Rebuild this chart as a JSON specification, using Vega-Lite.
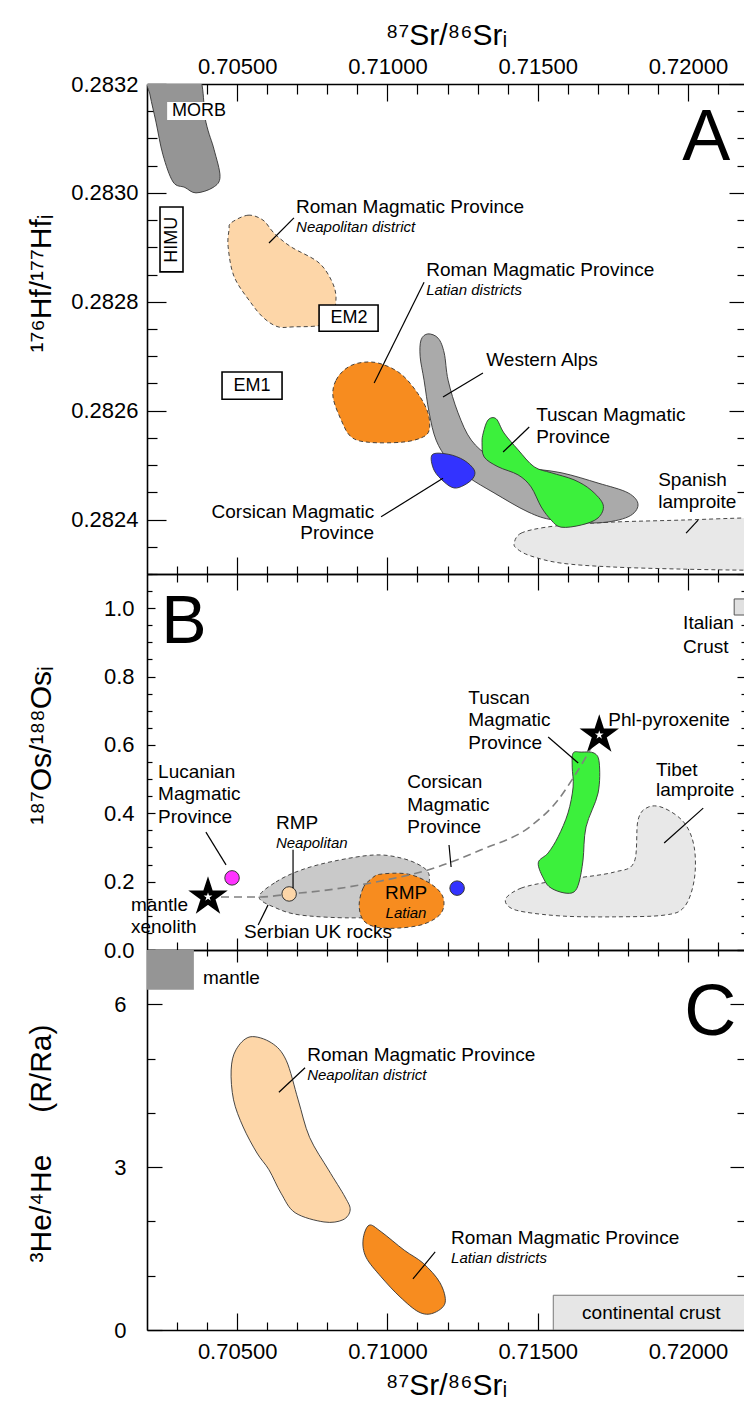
{
"$schema":"https://vega.github.io/schema/vega-lite/v6.json",
"background":"white",
"padding":{"left":26,"top":20,"right":0,"bottom":0},
"spacing":0,
"bounds":"flush",
"config":{"view":{"stroke":null},
 "axis":{"grid":false,"domainColor":"#000","domainWidth":1.6,"tickColor":"#000","tickWidth":1.2,"labelFont":"Liberation Sans","labelFontSize":22,"labelColor":"#000","titleFont":"Liberation Sans","titleColor":"#000","titleFontWeight":"normal","labelFlush":false,"labelOverlap":false,"zindex":1},
 "text":{"font":"Liberation Sans","color":"#000"}},
"datasets":{
"shapes":[
{"panel":"A","id":"A-RN","group":"Roman Neapolitan","i":0,"x":0.7048,"y":0.282945},
{"panel":"A","id":"A-RN","group":"Roman Neapolitan","i":1,"x":0.70536,"y":0.282959},
{"panel":"A","id":"A-RN","group":"Roman Neapolitan","i":2,"x":0.70586,"y":0.28295},
{"panel":"A","id":"A-RN","group":"Roman Neapolitan","i":3,"x":0.70623,"y":0.282926},
{"panel":"A","id":"A-RN","group":"Roman Neapolitan","i":4,"x":0.70679,"y":0.282901},
{"panel":"A","id":"A-RN","group":"Roman Neapolitan","i":5,"x":0.70769,"y":0.282873},
{"panel":"A","id":"A-RN","group":"Roman Neapolitan","i":6,"x":0.70813,"y":0.28284},
{"panel":"A","id":"A-RN","group":"Roman Neapolitan","i":7,"x":0.70829,"y":0.282807},
{"panel":"A","id":"A-RN","group":"Roman Neapolitan","i":8,"x":0.70813,"y":0.282767},
{"panel":"A","id":"A-RN","group":"Roman Neapolitan","i":9,"x":0.70769,"y":0.282756},
{"panel":"A","id":"A-RN","group":"Roman Neapolitan","i":10,"x":0.70689,"y":0.282754},
{"panel":"A","id":"A-RN","group":"Roman Neapolitan","i":11,"x":0.70636,"y":0.282754},
{"panel":"A","id":"A-RN","group":"Roman Neapolitan","i":12,"x":0.70589,"y":0.28277},
{"panel":"A","id":"A-RN","group":"Roman Neapolitan","i":13,"x":0.70546,"y":0.282798},
{"panel":"A","id":"A-RN","group":"Roman Neapolitan","i":14,"x":0.7049,"y":0.282846},
{"panel":"A","id":"A-RN","group":"Roman Neapolitan","i":15,"x":0.7047,"y":0.282901},
{"panel":"A","id":"A-RN","group":"Roman Neapolitan","i":16,"x":0.70473,"y":0.282932},
{"panel":"A","id":"A-RL","group":"Roman Latian","i":0,"x":0.70819,"y":0.282625},
{"panel":"A","id":"A-RL","group":"Roman Latian","i":1,"x":0.70829,"y":0.282656},
{"panel":"A","id":"A-RL","group":"Roman Latian","i":2,"x":0.70869,"y":0.28268},
{"panel":"A","id":"A-RL","group":"Roman Latian","i":3,"x":0.70922,"y":0.282689},
{"panel":"A","id":"A-RL","group":"Roman Latian","i":4,"x":0.70979,"y":0.282686},
{"panel":"A","id":"A-RL","group":"Roman Latian","i":5,"x":0.71046,"y":0.282667},
{"panel":"A","id":"A-RL","group":"Roman Latian","i":6,"x":0.71102,"y":0.282631},
{"panel":"A","id":"A-RL","group":"Roman Latian","i":7,"x":0.71135,"y":0.282596},
{"panel":"A","id":"A-RL","group":"Roman Latian","i":8,"x":0.71139,"y":0.282564},
{"panel":"A","id":"A-RL","group":"Roman Latian","i":9,"x":0.71112,"y":0.28255},
{"panel":"A","id":"A-RL","group":"Roman Latian","i":10,"x":0.71046,"y":0.282542},
{"panel":"A","id":"A-RL","group":"Roman Latian","i":11,"x":0.70936,"y":0.282542},
{"panel":"A","id":"A-RL","group":"Roman Latian","i":12,"x":0.70879,"y":0.282552},
{"panel":"A","id":"A-RL","group":"Roman Latian","i":13,"x":0.70846,"y":0.282583},
{"panel":"A","id":"A-SP","group":"Spanish lamproite","i":0,"x":0.71422,"y":0.282357},
{"panel":"A","id":"A-SP","group":"Spanish lamproite","i":1,"x":0.71445,"y":0.282375},
{"panel":"A","id":"A-SP","group":"Spanish lamproite","i":2,"x":0.71528,"y":0.282386},
{"panel":"A","id":"A-SP","group":"Spanish lamproite","i":3,"x":0.71645,"y":0.282392},
{"panel":"A","id":"A-SP","group":"Spanish lamproite","i":4,"x":0.71778,"y":0.282396},
{"panel":"A","id":"A-SP","group":"Spanish lamproite","i":5,"x":0.71978,"y":0.282399},
{"panel":"A","id":"A-SP","group":"Spanish lamproite","i":6,"x":0.72191,"y":0.282403},
{"panel":"A","id":"A-SP","group":"Spanish lamproite","i":7,"x":0.72277,"y":0.282403},
{"panel":"A","id":"A-SP","group":"Spanish lamproite","i":8,"x":0.72277,"y":0.282307},
{"panel":"A","id":"A-SP","group":"Spanish lamproite","i":9,"x":0.72191,"y":0.282307},
{"panel":"A","id":"A-SP","group":"Spanish lamproite","i":10,"x":0.71978,"y":0.282309},
{"panel":"A","id":"A-SP","group":"Spanish lamproite","i":11,"x":0.71745,"y":0.282313},
{"panel":"A","id":"A-SP","group":"Spanish lamproite","i":12,"x":0.71578,"y":0.28232},
{"panel":"A","id":"A-SP","group":"Spanish lamproite","i":13,"x":0.71478,"y":0.282333},
{"panel":"A","id":"A-SP","group":"Spanish lamproite","i":14,"x":0.71432,"y":0.282346},
{"panel":"A","id":"A-MORB","group":"MORB","i":0,"x":0.70195,"y":0.28323},
{"panel":"A","id":"A-MORB","group":"MORB","i":1,"x":0.7036,"y":0.28323},
{"panel":"A","id":"A-MORB","group":"MORB","i":2,"x":0.70396,"y":0.28313},
{"panel":"A","id":"A-MORB","group":"MORB","i":3,"x":0.70423,"y":0.28308},
{"panel":"A","id":"A-MORB","group":"MORB","i":4,"x":0.70443,"y":0.28303},
{"panel":"A","id":"A-MORB","group":"MORB","i":5,"x":0.7042,"y":0.28301},
{"panel":"A","id":"A-MORB","group":"MORB","i":6,"x":0.70363,"y":0.283},
{"panel":"A","id":"A-MORB","group":"MORB","i":7,"x":0.70326,"y":0.28301},
{"panel":"A","id":"A-MORB","group":"MORB","i":8,"x":0.70287,"y":0.28302},
{"panel":"A","id":"A-MORB","group":"MORB","i":9,"x":0.70253,"y":0.28307},
{"panel":"A","id":"A-MORB","group":"MORB","i":10,"x":0.7023,"y":0.28313},
{"panel":"A","id":"A-MORB","group":"MORB","i":11,"x":0.7021,"y":0.28318},
{"panel":"A","id":"A-WA","group":"Western Alps","i":0,"x":0.71112,"y":0.28273},
{"panel":"A","id":"A-WA","group":"Western Alps","i":1,"x":0.71135,"y":0.282741},
{"panel":"A","id":"A-WA","group":"Western Alps","i":2,"x":0.71169,"y":0.282733},
{"panel":"A","id":"A-WA","group":"Western Alps","i":3,"x":0.71189,"y":0.282706},
{"panel":"A","id":"A-WA","group":"Western Alps","i":4,"x":0.71202,"y":0.282656},
{"panel":"A","id":"A-WA","group":"Western Alps","i":5,"x":0.71235,"y":0.282596},
{"panel":"A","id":"A-WA","group":"Western Alps","i":6,"x":0.71279,"y":0.282546},
{"panel":"A","id":"A-WA","group":"Western Alps","i":7,"x":0.71345,"y":0.282515},
{"panel":"A","id":"A-WA","group":"Western Alps","i":8,"x":0.71445,"y":0.282497},
{"panel":"A","id":"A-WA","group":"Western Alps","i":9,"x":0.71578,"y":0.282486},
{"panel":"A","id":"A-WA","group":"Western Alps","i":10,"x":0.71701,"y":0.282467},
{"panel":"A","id":"A-WA","group":"Western Alps","i":11,"x":0.71801,"y":0.282449},
{"panel":"A","id":"A-WA","group":"Western Alps","i":12,"x":0.71834,"y":0.282427},
{"panel":"A","id":"A-WA","group":"Western Alps","i":13,"x":0.71801,"y":0.282405},
{"panel":"A","id":"A-WA","group":"Western Alps","i":14,"x":0.71701,"y":0.282394},
{"panel":"A","id":"A-WA","group":"Western Alps","i":15,"x":0.71555,"y":0.282399},
{"panel":"A","id":"A-WA","group":"Western Alps","i":16,"x":0.71468,"y":0.282414},
{"panel":"A","id":"A-WA","group":"Western Alps","i":17,"x":0.71355,"y":0.282449},
{"panel":"A","id":"A-WA","group":"Western Alps","i":18,"x":0.71269,"y":0.282478},
{"panel":"A","id":"A-WA","group":"Western Alps","i":19,"x":0.71202,"y":0.28251},
{"panel":"A","id":"A-WA","group":"Western Alps","i":20,"x":0.71162,"y":0.282546},
{"panel":"A","id":"A-WA","group":"Western Alps","i":21,"x":0.71139,"y":0.282596},
{"panel":"A","id":"A-WA","group":"Western Alps","i":22,"x":0.71122,"y":0.282656},
{"panel":"A","id":"A-WA","group":"Western Alps","i":23,"x":0.71109,"y":0.282699},
{"panel":"A","id":"A-TU","group":"Tuscan","i":0,"x":0.71319,"y":0.282559},
{"panel":"A","id":"A-TU","group":"Tuscan","i":1,"x":0.71335,"y":0.282583},
{"panel":"A","id":"A-TU","group":"Tuscan","i":2,"x":0.71362,"y":0.282585},
{"panel":"A","id":"A-TU","group":"Tuscan","i":3,"x":0.71388,"y":0.282559},
{"panel":"A","id":"A-TU","group":"Tuscan","i":4,"x":0.71435,"y":0.282528},
{"panel":"A","id":"A-TU","group":"Tuscan","i":5,"x":0.71488,"y":0.282497},
{"panel":"A","id":"A-TU","group":"Tuscan","i":6,"x":0.71545,"y":0.282486},
{"panel":"A","id":"A-TU","group":"Tuscan","i":7,"x":0.71621,"y":0.282473},
{"panel":"A","id":"A-TU","group":"Tuscan","i":8,"x":0.71678,"y":0.282454},
{"panel":"A","id":"A-TU","group":"Tuscan","i":9,"x":0.71718,"y":0.282427},
{"panel":"A","id":"A-TU","group":"Tuscan","i":10,"x":0.71701,"y":0.282403},
{"panel":"A","id":"A-TU","group":"Tuscan","i":11,"x":0.71645,"y":0.28239},
{"panel":"A","id":"A-TU","group":"Tuscan","i":12,"x":0.71578,"y":0.282386},
{"panel":"A","id":"A-TU","group":"Tuscan","i":13,"x":0.71545,"y":0.282399},
{"panel":"A","id":"A-TU","group":"Tuscan","i":14,"x":0.71512,"y":0.282423},
{"panel":"A","id":"A-TU","group":"Tuscan","i":15,"x":0.71478,"y":0.28246},
{"panel":"A","id":"A-TU","group":"Tuscan","i":16,"x":0.71435,"y":0.282482},
{"panel":"A","id":"A-TU","group":"Tuscan","i":17,"x":0.71368,"y":0.282497},
{"panel":"A","id":"A-TU","group":"Tuscan","i":18,"x":0.71322,"y":0.282515},
{"panel":"A","id":"A-TU","group":"Tuscan","i":19,"x":0.71315,"y":0.282541},
{"panel":"A","id":"A-CO","group":"Corsican","i":0,"x":0.71149,"y":0.282519},
{"panel":"A","id":"A-CO","group":"Corsican","i":1,"x":0.71202,"y":0.28252},
{"panel":"A","id":"A-CO","group":"Corsican","i":2,"x":0.71255,"y":0.282509},
{"panel":"A","id":"A-CO","group":"Corsican","i":3,"x":0.71289,"y":0.282491},
{"panel":"A","id":"A-CO","group":"Corsican","i":4,"x":0.71285,"y":0.282476},
{"panel":"A","id":"A-CO","group":"Corsican","i":5,"x":0.71255,"y":0.282463},
{"panel":"A","id":"A-CO","group":"Corsican","i":6,"x":0.71222,"y":0.282458},
{"panel":"A","id":"A-CO","group":"Corsican","i":7,"x":0.71189,"y":0.282469},
{"panel":"A","id":"A-CO","group":"Corsican","i":8,"x":0.71155,"y":0.282491},
{"panel":"B","id":"B-SE","group":"Serbian UK","i":0,"x":0.70573,"y":0.155},
{"panel":"B","id":"B-SE","group":"Serbian UK","i":1,"x":0.70629,"y":0.199},
{"panel":"B","id":"B-SE","group":"Serbian UK","i":2,"x":0.70713,"y":0.234},
{"panel":"B","id":"B-SE","group":"Serbian UK","i":3,"x":0.70822,"y":0.26},
{"panel":"B","id":"B-SE","group":"Serbian UK","i":4,"x":0.70956,"y":0.278},
{"panel":"B","id":"B-SE","group":"Serbian UK","i":5,"x":0.71046,"y":0.269},
{"panel":"B","id":"B-SE","group":"Serbian UK","i":6,"x":0.71112,"y":0.246},
{"panel":"B","id":"B-SE","group":"Serbian UK","i":7,"x":0.71139,"y":0.219},
{"panel":"B","id":"B-SE","group":"Serbian UK","i":8,"x":0.71129,"y":0.176},
{"panel":"B","id":"B-SE","group":"Serbian UK","i":9,"x":0.71079,"y":0.132},
{"panel":"B","id":"B-SE","group":"Serbian UK","i":10,"x":0.71012,"y":0.102},
{"panel":"B","id":"B-SE","group":"Serbian UK","i":11,"x":0.70879,"y":0.094},
{"panel":"B","id":"B-SE","group":"Serbian UK","i":12,"x":0.70713,"y":0.102},
{"panel":"B","id":"B-SE","group":"Serbian UK","i":13,"x":0.70629,"y":0.123},
{"panel":"B","id":"B-RL","group":"Roman Latian","i":0,"x":0.70906,"y":0.132},
{"panel":"B","id":"B-RL","group":"Roman Latian","i":1,"x":0.70919,"y":0.181},
{"panel":"B","id":"B-RL","group":"Roman Latian","i":2,"x":0.70946,"y":0.208},
{"panel":"B","id":"B-RL","group":"Roman Latian","i":3,"x":0.70979,"y":0.222},
{"panel":"B","id":"B-RL","group":"Roman Latian","i":4,"x":0.71069,"y":0.222},
{"panel":"B","id":"B-RL","group":"Roman Latian","i":5,"x":0.71145,"y":0.193},
{"panel":"B","id":"B-RL","group":"Roman Latian","i":6,"x":0.71185,"y":0.155},
{"panel":"B","id":"B-RL","group":"Roman Latian","i":7,"x":0.71179,"y":0.108},
{"panel":"B","id":"B-RL","group":"Roman Latian","i":8,"x":0.71122,"y":0.076},
{"panel":"B","id":"B-RL","group":"Roman Latian","i":9,"x":0.71036,"y":0.064},
{"panel":"B","id":"B-RL","group":"Roman Latian","i":10,"x":0.70962,"y":0.067},
{"panel":"B","id":"B-RL","group":"Roman Latian","i":11,"x":0.70919,"y":0.088},
{"panel":"B","id":"B-TI","group":"Tibet lamproite","i":0,"x":0.71395,"y":0.152},
{"panel":"B","id":"B-TI","group":"Tibet lamproite","i":1,"x":0.71445,"y":0.181},
{"panel":"B","id":"B-TI","group":"Tibet lamproite","i":2,"x":0.71535,"y":0.199},
{"panel":"B","id":"B-TI","group":"Tibet lamproite","i":3,"x":0.71635,"y":0.211},
{"panel":"B","id":"B-TI","group":"Tibet lamproite","i":4,"x":0.71755,"y":0.228},
{"panel":"B","id":"B-TI","group":"Tibet lamproite","i":5,"x":0.71821,"y":0.257},
{"panel":"B","id":"B-TI","group":"Tibet lamproite","i":6,"x":0.71834,"y":0.38},
{"panel":"B","id":"B-TI","group":"Tibet lamproite","i":7,"x":0.71868,"y":0.418},
{"panel":"B","id":"B-TI","group":"Tibet lamproite","i":8,"x":0.71921,"y":0.415},
{"panel":"B","id":"B-TI","group":"Tibet lamproite","i":9,"x":0.71988,"y":0.372},
{"panel":"B","id":"B-TI","group":"Tibet lamproite","i":10,"x":0.72021,"y":0.301},
{"panel":"B","id":"B-TI","group":"Tibet lamproite","i":11,"x":0.72021,"y":0.205},
{"panel":"B","id":"B-TI","group":"Tibet lamproite","i":12,"x":0.71988,"y":0.126},
{"panel":"B","id":"B-TI","group":"Tibet lamproite","i":13,"x":0.71921,"y":0.102},
{"panel":"B","id":"B-TI","group":"Tibet lamproite","i":14,"x":0.71755,"y":0.097},
{"panel":"B","id":"B-TI","group":"Tibet lamproite","i":15,"x":0.71588,"y":0.099},
{"panel":"B","id":"B-TI","group":"Tibet lamproite","i":16,"x":0.71458,"y":0.111},
{"panel":"B","id":"B-TI","group":"Tibet lamproite","i":17,"x":0.71405,"y":0.126},
{"panel":"B","id":"B-TU","group":"Tuscan","i":0,"x":0.71618,"y":0.576},
{"panel":"B","id":"B-TU","group":"Tuscan","i":1,"x":0.71645,"y":0.579},
{"panel":"B","id":"B-TU","group":"Tuscan","i":2,"x":0.71688,"y":0.576},
{"panel":"B","id":"B-TU","group":"Tuscan","i":3,"x":0.71705,"y":0.547},
{"panel":"B","id":"B-TU","group":"Tuscan","i":4,"x":0.71701,"y":0.459},
{"panel":"B","id":"B-TU","group":"Tuscan","i":5,"x":0.71661,"y":0.36},
{"panel":"B","id":"B-TU","group":"Tuscan","i":6,"x":0.71651,"y":0.263},
{"panel":"B","id":"B-TU","group":"Tuscan","i":7,"x":0.71638,"y":0.199},
{"panel":"B","id":"B-TU","group":"Tuscan","i":8,"x":0.71621,"y":0.17},
{"panel":"B","id":"B-TU","group":"Tuscan","i":9,"x":0.71588,"y":0.167},
{"panel":"B","id":"B-TU","group":"Tuscan","i":10,"x":0.71545,"y":0.181},
{"panel":"B","id":"B-TU","group":"Tuscan","i":11,"x":0.71522,"y":0.205},
{"panel":"B","id":"B-TU","group":"Tuscan","i":12,"x":0.71502,"y":0.255},
{"panel":"B","id":"B-TU","group":"Tuscan","i":13,"x":0.71535,"y":0.284},
{"panel":"B","id":"B-TU","group":"Tuscan","i":14,"x":0.71568,"y":0.331},
{"panel":"B","id":"B-TU","group":"Tuscan","i":15,"x":0.71601,"y":0.401},
{"panel":"B","id":"B-TU","group":"Tuscan","i":16,"x":0.71618,"y":0.477},
{"panel":"B","id":"B-TU","group":"Tuscan","i":17,"x":0.71615,"y":0.535},
{"panel":"C","id":"C-RN","group":"Roman Neapolitan","i":0,"x":0.70543,"y":5.4},
{"panel":"C","id":"C-RN","group":"Roman Neapolitan","i":1,"x":0.70614,"y":5.29},
{"panel":"C","id":"C-RN","group":"Roman Neapolitan","i":2,"x":0.70663,"y":4.97},
{"panel":"C","id":"C-RN","group":"Roman Neapolitan","i":3,"x":0.70703,"y":4.24},
{"panel":"C","id":"C-RN","group":"Roman Neapolitan","i":4,"x":0.70741,"y":3.55},
{"panel":"C","id":"C-RN","group":"Roman Neapolitan","i":5,"x":0.70804,"y":2.95},
{"panel":"C","id":"C-RN","group":"Roman Neapolitan","i":6,"x":0.70859,"y":2.45},
{"panel":"C","id":"C-RN","group":"Roman Neapolitan","i":7,"x":0.70876,"y":2.21},
{"panel":"C","id":"C-RN","group":"Roman Neapolitan","i":8,"x":0.70852,"y":2.03},
{"panel":"C","id":"C-RN","group":"Roman Neapolitan","i":9,"x":0.70789,"y":1.99},
{"panel":"C","id":"C-RN","group":"Roman Neapolitan","i":10,"x":0.70693,"y":2.16},
{"panel":"C","id":"C-RN","group":"Roman Neapolitan","i":11,"x":0.70646,"y":2.52},
{"panel":"C","id":"C-RN","group":"Roman Neapolitan","i":12,"x":0.70606,"y":2.95},
{"panel":"C","id":"C-RN","group":"Roman Neapolitan","i":13,"x":0.70566,"y":3.26},
{"panel":"C","id":"C-RN","group":"Roman Neapolitan","i":14,"x":0.7052,"y":3.74},
{"panel":"C","id":"C-RN","group":"Roman Neapolitan","i":15,"x":0.70488,"y":4.24},
{"panel":"C","id":"C-RN","group":"Roman Neapolitan","i":16,"x":0.7048,"y":4.79},
{"panel":"C","id":"C-RN","group":"Roman Neapolitan","i":17,"x":0.70496,"y":5.16},
{"panel":"C","id":"C-RL","group":"Roman Latian","i":0,"x":0.70939,"y":1.93},
{"panel":"C","id":"C-RL","group":"Roman Latian","i":1,"x":0.70979,"y":1.81},
{"panel":"C","id":"C-RL","group":"Roman Latian","i":2,"x":0.71056,"y":1.47},
{"panel":"C","id":"C-RL","group":"Roman Latian","i":3,"x":0.71119,"y":1.23},
{"panel":"C","id":"C-RL","group":"Roman Latian","i":4,"x":0.71175,"y":0.87},
{"panel":"C","id":"C-RL","group":"Roman Latian","i":5,"x":0.71192,"y":0.5},
{"panel":"C","id":"C-RL","group":"Roman Latian","i":6,"x":0.71152,"y":0.31},
{"panel":"C","id":"C-RL","group":"Roman Latian","i":7,"x":0.71105,"y":0.33},
{"panel":"C","id":"C-RL","group":"Roman Latian","i":8,"x":0.71042,"y":0.61},
{"panel":"C","id":"C-RL","group":"Roman Latian","i":9,"x":0.70979,"y":0.98},
{"panel":"C","id":"C-RL","group":"Roman Latian","i":10,"x":0.70929,"y":1.34},
{"panel":"C","id":"C-RL","group":"Roman Latian","i":11,"x":0.70919,"y":1.66}
],
"curve":[
{"i":0,"x":0.70403,"y":0.155},{"i":1,"x":0.70573,"y":0.155},{"i":2,"x":0.70679,"y":0.164},{"i":3,"x":0.70822,"y":0.178},{"i":4,"x":0.70979,"y":0.202},{"i":5,"x":0.71135,"y":0.234},{"i":6,"x":0.71312,"y":0.293},{"i":7,"x":0.71478,"y":0.363},{"i":8,"x":0.71568,"y":0.439},{"i":9,"x":0.71618,"y":0.503},{"i":10,"x":0.71661,"y":0.565},{"i":11,"x":0.71701,"y":0.629}
],
"boxes":[
{"panel":"A","name":"MORB","x":0.70267,"x2":0.7048,"y":0.283134,"y2":0.283167},
{"panel":"A","name":"HIMU","x":0.702433,"x2":0.703198,"y":0.282855,"y2":0.282974},
{"panel":"A","name":"EM2","x":0.707726,"x2":0.70969,"y":0.282746,"y2":0.282794},
{"panel":"A","name":"EM1","x":0.704497,"x2":0.706494,"y":0.282621,"y2":0.282671},
{"panel":"B","name":"Italian crust","x":0.72154,"x2":0.7235,"y":0.98,"y2":1.027},
{"panel":"C","name":"mantle","x":0.702,"x2":0.70356,"y":6.27,"y2":7},
{"panel":"C","name":"continental crust","x":0.71552,"x2":0.7235,"y":0,"y2":0.64}
],
"points":[
{"name":"Lucanian","x":0.70483,"y":0.211},
{"name":"RMP Neapolitan","x":0.70673,"y":0.164},
{"name":"Corsican","x":0.71232,"y":0.181}
],
"stars":[
{"name":"mantle xenolith","x":0.70403,"y":0.155},
{"name":"Phl-pyroxenite","x":0.71705,"y":0.629}
],
"leaders":[
{"panel":"A","x":0.70606,"y":0.282908,"x2":0.70689,"y2":0.282954},
{"panel":"A","x":0.70956,"y":0.282651,"x2":0.71122,"y2":0.282836},
{"panel":"A","x":0.71185,"y":0.282625,"x2":0.71318,"y2":0.282669},
{"panel":"A","x":0.71385,"y":0.282524,"x2":0.71472,"y2":0.28257},
{"panel":"A","x":0.70979,"y":0.282405,"x2":0.71185,"y2":0.282476},
{"panel":"A","x":0.71994,"y":0.282375,"x2":0.72034,"y2":0.282399},
{"panel":"B","x":0.70396,"y":0.345,"x2":0.70463,"y2":0.249},
{"panel":"B","x":0.70686,"y":0.293,"x2":0.70686,"y2":0.181},
{"panel":"B","x":0.70603,"y":0.132,"x2":0.7057,"y2":0.073},
{"panel":"B","x":0.71205,"y":0.307,"x2":0.71212,"y2":0.243},
{"panel":"B","x":0.71535,"y":0.623,"x2":0.71635,"y2":0.547},
{"panel":"B","x":0.72051,"y":0.415,"x2":0.71921,"y2":0.313},
{"panel":"C","x":0.70639,"y":4.38,"x2":0.70726,"y2":4.83},
{"panel":"C","x":0.71085,"y":0.94,"x2":0.71159,"y2":1.44}
],
"texts":[
{"panel":"A","role":"label","x":0.70696,"y":0.282974,"text":"Roman Magmatic Province"},
{"panel":"A","role":"sub","x":0.70696,"y":0.282937,"text":"Neapolitan district"},
{"panel":"A","role":"label","x":0.71129,"y":0.282858,"text":"Roman Magmatic Province"},
{"panel":"A","role":"sub","x":0.71129,"y":0.282822,"text":"Latian districts"},
{"panel":"A","role":"label","x":0.71329,"y":0.282693,"text":"Western Alps"},
{"panel":"A","role":"label","x":0.71495,"y":0.282592,"text":"Tuscan Magmatic"},
{"panel":"A","role":"label","x":0.71495,"y":0.282552,"text":"Province"},
{"panel":"A","role":"labelR","x":0.70956,"y":0.282414,"text":"Corsican Magmatic"},
{"panel":"A","role":"labelR","x":0.70956,"y":0.282375,"text":"Province"},
{"panel":"A","role":"label","x":0.71901,"y":0.282473,"text":"Spanish"},
{"panel":"A","role":"label","x":0.71901,"y":0.282432,"text":"lamproite"},
{"panel":"A","role":"center","x":0.70373,"y":0.28315,"text":"MORB"},
{"panel":"A","role":"center","x":0.70872,"y":0.28277,"text":"EM2"},
{"panel":"A","role":"center","x":0.705495,"y":0.282646,"text":"EM1"},
{"panel":"A","role":"vertical","x":0.702816,"y":0.282914,"text":"HIMU"},
{"panel":"A","role":"letter","x":0.72061,"y":0.28306,"text":"A"},
{"panel":"B","role":"label","x":0.70237,"y":0.521,"text":"Lucanian"},
{"panel":"B","role":"label","x":0.70237,"y":0.456,"text":"Magmatic"},
{"panel":"B","role":"label","x":0.70237,"y":0.389,"text":"Province"},
{"panel":"B","role":"label","x":0.70629,"y":0.372,"text":"RMP"},
{"panel":"B","role":"sub","x":0.70629,"y":0.313,"text":"Neapolitan"},
{"panel":"B","role":"label","x":0.701467,"y":0.132,"text":"mantle"},
{"panel":"B","role":"label","x":0.701467,"y":0.067,"text":"xenolith"},
{"panel":"B","role":"label","x":0.70523,"y":0.053,"text":"Serbian UK rocks"},
{"panel":"B","role":"label","x":0.71066,"y":0.492,"text":"Corsican"},
{"panel":"B","role":"label","x":0.71066,"y":0.424,"text":"Magmatic"},
{"panel":"B","role":"label","x":0.71066,"y":0.36,"text":"Province"},
{"panel":"B","role":"label","x":0.71269,"y":0.737,"text":"Tuscan"},
{"panel":"B","role":"label","x":0.71269,"y":0.673,"text":"Magmatic"},
{"panel":"B","role":"label","x":0.71269,"y":0.606,"text":"Province"},
{"panel":"B","role":"label","x":0.71735,"y":0.673,"text":"Phl-pyroxenite"},
{"panel":"B","role":"label","x":0.71894,"y":0.527,"text":"Tibet"},
{"panel":"B","role":"label","x":0.71894,"y":0.468,"text":"lamproite"},
{"panel":"B","role":"label","x":0.71984,"y":0.957,"text":"Italian"},
{"panel":"B","role":"label","x":0.71984,"y":0.886,"text":"Crust"},
{"panel":"B","role":"center","x":0.71062,"y":0.167,"text":"RMP"},
{"panel":"B","role":"subC","x":0.71062,"y":0.108,"text":"Latian"},
{"panel":"B","role":"letter","x":0.70323,"y":0.898,"text":"B"},
{"panel":"C","role":"label","x":0.70733,"y":5.07,"text":"Roman Magmatic Province"},
{"panel":"C","role":"sub","x":0.70733,"y":4.7,"text":"Neapolitan district"},
{"panel":"C","role":"label","x":0.71212,"y":1.69,"text":"Roman Magmatic Province"},
{"panel":"C","role":"sub","x":0.71212,"y":1.33,"text":"Latian districts"},
{"panel":"C","role":"label","x":0.70386,"y":6.48,"text":"mantle"},
{"panel":"C","role":"center","x":0.71878,"y":0.32,"text":"continental crust"},
{"panel":"C","role":"letter","x":0.72074,"y":5.43,"text":"C"}
]
},
"vconcat":[
{
"width":598,"height":490,
"resolve":{"axis":{"x":"independent","y":"independent"}},
"layer":[
{"data":{"name":"shapes"},"transform":[{"filter":"datum.panel=='A' && indexof(['A-RN','A-RL','A-SP'],datum.id)>=0"}],
 "mark":{"type":"line","interpolate":"cardinal-closed","stroke":"#333","strokeWidth":0.9,"strokeDash":[4,3],"clip":true},
 "encoding":{
  "x":{"field":"x","type":"quantitative","scale":{"domain":[0.702,0.7219],"nice":false,"zero":false},
   "axis":{"orient":"top","values":[0.705,0.71,0.715,0.72],"format":".5f","tickSize":-17,"labelPadding":23,"title":"⁸⁷Sr/⁸⁶Srᵢ","titleFontSize":30,"titlePadding":5}},
  "y":{"field":"y","type":"quantitative","scale":{"domain":[0.2823,0.2832],"nice":false,"zero":false},
   "axis":{"orient":"left","values":[0.2824,0.2826,0.2828,0.283,0.2832],"format":".4f","tickSize":-19,"labelPadding":28,"title":"¹⁷⁶Hf/¹⁷⁷Hfᵢ","titleFontSize":30,"titleX":-106,"titleY":199,"titleBaseline":"middle"}},
  "order":{"field":"i","type":"quantitative"},
  "detail":{"field":"id","type":"nominal"},
  "fill":{"field":"group","type":"nominal","legend":null,"scale":{"domain":["MORB","Roman Neapolitan","Roman Latian","Western Alps","Tuscan","Corsican","Spanish lamproite","Serbian UK","Tibet lamproite"],"range":["#959595","#FDD6A8","#F78C1F","#AAAAAA","#3CF03C","#3333FF","#E8E8E8","#C9C9C9","#E8E8E8"]}}
 }},
{"data":{"name":"shapes"},"transform":[{"filter":"datum.panel=='A' && indexof(['A-MORB','A-WA','A-TU','A-CO'],datum.id)>=0"}],
 "mark":{"type":"line","interpolate":"cardinal-closed","stroke":"#333","strokeWidth":0.9,"clip":true},
 "encoding":{
  "x":{"field":"x","type":"quantitative","scale":{"domain":[0.702,0.7219],"nice":false,"zero":false},
   "axis":{"orient":"top","values":[0.703,0.704,0.706,0.707,0.708,0.709,0.711,0.712,0.713,0.714,0.716,0.717,0.718,0.719,0.721],"labels":false,"domain":false,"title":null,"tickSize":-10}},
  "y":{"field":"y","type":"quantitative","scale":{"domain":[0.2823,0.2832],"nice":false,"zero":false},
   "axis":{"orient":"left","values":[0.2823,0.28235,0.28245,0.2825,0.28255,0.28265,0.2827,0.28275,0.28285,0.2829,0.28295,0.28305,0.2831,0.28315],"labels":false,"domain":false,"title":null,"tickSize":-10}},
  "order":{"field":"i","type":"quantitative"},
  "detail":{"field":"id","type":"nominal"},
  "fill":{"field":"group","type":"nominal","legend":null,"scale":{"domain":["MORB","Roman Neapolitan","Roman Latian","Western Alps","Tuscan","Corsican","Spanish lamproite","Serbian UK","Tibet lamproite"],"range":["#959595","#FDD6A8","#F78C1F","#AAAAAA","#3CF03C","#3333FF","#E8E8E8","#C9C9C9","#E8E8E8"]}}
 }},
{"data":{"name":"boxes"},"transform":[{"filter":"datum.panel=='A' && datum.name=='MORB'"}],
 "mark":{"type":"rect","fill":"white"},
 "encoding":{"x":{"field":"x","type":"quantitative","scale":{"domain":[0.702,0.7219],"nice":false,"zero":false},
   "axis":{"orient":"bottom","values":[0.705,0.71,0.715,0.72],"labels":false,"title":null,"tickSize":-17}},"x2":{"field":"x2"},
  "y":{"field":"y","type":"quantitative","scale":{"domain":[0.2823,0.2832],"nice":false,"zero":false},
   "axis":{"orient":"right","values":[0.2824,0.2826,0.2828,0.283,0.2832],"labels":false,"domain":false,"title":null,"tickSize":-16}},"y2":{"field":"y2"}}},
{"data":{"name":"boxes"},"transform":[{"filter":"datum.panel=='A' && datum.name!='MORB'"}],
 "mark":{"type":"rect","fill":"white","stroke":"#000","strokeWidth":1.6},
 "encoding":{"x":{"field":"x","type":"quantitative","scale":{"domain":[0.702,0.7219],"nice":false,"zero":false},
   "axis":{"orient":"bottom","values":[0.703,0.704,0.706,0.707,0.708,0.709,0.711,0.712,0.713,0.714,0.716,0.717,0.718,0.719,0.721],"labels":false,"domain":false,"title":null,"tickSize":-8}},"x2":{"field":"x2"},
  "y":{"field":"y","type":"quantitative","scale":{"domain":[0.2823,0.2832],"nice":false,"zero":false},
   "axis":{"orient":"right","values":[0.2823,0.28235,0.28245,0.2825,0.28255,0.28265,0.2827,0.28275,0.28285,0.2829,0.28295,0.28305,0.2831,0.28315],"labels":false,"domain":false,"title":null,"tickSize":-8}},"y2":{"field":"y2"}}},
{"data":{"name":"leaders"},"transform":[{"filter":"datum.panel=='A'"}],
 "mark":{"type":"rule","color":"#000","strokeWidth":1.2},
 "encoding":{"x":{"field":"x","type":"quantitative","scale":{"domain":[0.702,0.7219],"nice":false,"zero":false},"axis":null},"x2":{"field":"x2"},
  "y":{"field":"y","type":"quantitative","scale":{"domain":[0.2823,0.2832],"nice":false,"zero":false},"axis":null},"y2":{"field":"y2"}}},
{"data":{"name":"texts"},"transform":[{"filter":"datum.panel=='A' && datum.role=='label'"}],
 "mark":{"type":"text","align":"left","baseline":"middle","fontSize":19},
 "encoding":{"x":{"field":"x","type":"quantitative","scale":{"domain":[0.702,0.7219],"nice":false,"zero":false},"axis":null},
  "y":{"field":"y","type":"quantitative","scale":{"domain":[0.2823,0.2832],"nice":false,"zero":false},"axis":null},"text":{"field":"text"}}},
{"data":{"name":"texts"},"transform":[{"filter":"datum.panel=='A' && datum.role=='sub'"}],
 "mark":{"type":"text","align":"left","baseline":"middle","fontSize":15,"fontStyle":"italic"},
 "encoding":{"x":{"field":"x","type":"quantitative","scale":{"domain":[0.702,0.7219],"nice":false,"zero":false},"axis":null},
  "y":{"field":"y","type":"quantitative","scale":{"domain":[0.2823,0.2832],"nice":false,"zero":false},"axis":null},"text":{"field":"text"}}},
{"data":{"name":"texts"},"transform":[{"filter":"datum.panel=='A' && datum.role=='labelR'"}],
 "mark":{"type":"text","align":"right","baseline":"middle","fontSize":19},
 "encoding":{"x":{"field":"x","type":"quantitative","scale":{"domain":[0.702,0.7219],"nice":false,"zero":false},"axis":null},
  "y":{"field":"y","type":"quantitative","scale":{"domain":[0.2823,0.2832],"nice":false,"zero":false},"axis":null},"text":{"field":"text"}}},
{"data":{"name":"texts"},"transform":[{"filter":"datum.panel=='A' && datum.role=='center'"}],
 "mark":{"type":"text","align":"center","baseline":"middle","fontSize":18},
 "encoding":{"x":{"field":"x","type":"quantitative","scale":{"domain":[0.702,0.7219],"nice":false,"zero":false},"axis":null},
  "y":{"field":"y","type":"quantitative","scale":{"domain":[0.2823,0.2832],"nice":false,"zero":false},"axis":null},"text":{"field":"text"}}},
{"data":{"name":"texts"},"transform":[{"filter":"datum.panel=='A' && datum.role=='vertical'"}],
 "mark":{"type":"text","align":"center","baseline":"middle","fontSize":18,"angle":270},
 "encoding":{"x":{"field":"x","type":"quantitative","scale":{"domain":[0.702,0.7219],"nice":false,"zero":false},"axis":null},
  "y":{"field":"y","type":"quantitative","scale":{"domain":[0.2823,0.2832],"nice":false,"zero":false},"axis":null},"text":{"field":"text"}}},
{"data":{"name":"texts"},"transform":[{"filter":"datum.panel=='A' && datum.role=='letter'"}],
 "mark":{"type":"text","align":"center","baseline":"alphabetic","fontSize":72},
 "encoding":{"x":{"field":"x","type":"quantitative","scale":{"domain":[0.702,0.7219],"nice":false,"zero":false},"axis":null},
  "y":{"field":"y","type":"quantitative","scale":{"domain":[0.2823,0.2832],"nice":false,"zero":false},"axis":null},"text":{"field":"text"}}}
]
},
{
"width":598,"height":376,
"resolve":{"axis":{"x":"independent","y":"independent"}},
"layer":[
{"data":{"name":"shapes"},"transform":[{"filter":"datum.panel=='B' && datum.id!='B-TU'"}],
 "mark":{"type":"line","interpolate":"cardinal-closed","stroke":"#333","strokeWidth":0.9,"strokeDash":[4,3],"clip":true},
 "encoding":{
  "x":{"field":"x","type":"quantitative","scale":{"domain":[0.702,0.7219],"nice":false,"zero":false},
   "axis":{"orient":"top","values":[0.705,0.71,0.715,0.72],"labels":false,"title":null,"tickSize":-16}},
  "y":{"field":"y","type":"quantitative","scale":{"domain":[0,1.1],"nice":false,"zero":false},
   "axis":{"orient":"left","values":[0,0.2,0.4,0.6,0.8,1],"format":".1f","tickSize":-8,"labelPadding":21,"title":"¹⁸⁷Os/¹⁸⁸Osᵢ","titleFontSize":30,"titleX":-106,"titleY":171,"titleBaseline":"middle"}},
  "order":{"field":"i","type":"quantitative"},
  "detail":{"field":"id","type":"nominal"},
  "fill":{"field":"group","type":"nominal","legend":null,"scale":{"domain":["MORB","Roman Neapolitan","Roman Latian","Western Alps","Tuscan","Corsican","Spanish lamproite","Serbian UK","Tibet lamproite"],"range":["#959595","#FDD6A8","#F78C1F","#AAAAAA","#3CF03C","#3333FF","#E8E8E8","#C9C9C9","#E8E8E8"]}}
 }},
{"data":{"name":"shapes"},"transform":[{"filter":"datum.id=='B-TU'"}],
 "mark":{"type":"line","interpolate":"cardinal-closed","stroke":"#333","strokeWidth":0.9,"clip":true},
 "encoding":{
  "x":{"field":"x","type":"quantitative","scale":{"domain":[0.702,0.7219],"nice":false,"zero":false},
   "axis":{"orient":"top","values":[0.703,0.704,0.706,0.707,0.708,0.709,0.711,0.712,0.713,0.714,0.716,0.717,0.718,0.719,0.721],"labels":false,"domain":false,"title":null,"tickSize":-8}},
  "y":{"field":"y","type":"quantitative","scale":{"domain":[0,1.1],"nice":false,"zero":false},
   "axis":{"orient":"left","values":[0.05,0.1,0.15,0.25,0.3,0.35,0.45,0.5,0.55,0.65,0.7,0.75,0.85,0.9,0.95,1.05,1.1],"labels":false,"domain":false,"title":null,"tickSize":-5}},
  "order":{"field":"i","type":"quantitative"},
  "detail":{"field":"id","type":"nominal"},
  "fill":{"field":"group","type":"nominal","legend":null,"scale":{"domain":["MORB","Roman Neapolitan","Roman Latian","Western Alps","Tuscan","Corsican","Spanish lamproite","Serbian UK","Tibet lamproite"],"range":["#959595","#FDD6A8","#F78C1F","#AAAAAA","#3CF03C","#3333FF","#E8E8E8","#C9C9C9","#E8E8E8"]}}
 }},
{"data":{"name":"curve"},
 "mark":{"type":"line","interpolate":"monotone","stroke":"#808080","strokeWidth":1.6,"strokeDash":[8,5]},
 "encoding":{"x":{"field":"x","type":"quantitative","scale":{"domain":[0.702,0.7219],"nice":false,"zero":false},
   "axis":{"orient":"bottom","values":[0.705,0.71,0.715,0.72],"labels":false,"title":null,"tickSize":-12}},
  "y":{"field":"y","type":"quantitative","scale":{"domain":[0,1.1],"nice":false,"zero":false},
   "axis":{"orient":"right","values":[0,0.2,0.4,0.6,0.8,1],"labels":false,"domain":false,"title":null,"tickSize":-8}},
  "order":{"field":"i","type":"quantitative"}}},
{"data":{"name":"boxes"},"transform":[{"filter":"datum.panel=='B'"}],
 "mark":{"type":"rect","fill":"#E0E0E0","stroke":"#555","strokeWidth":1,"clip":true},
 "encoding":{"x":{"field":"x","type":"quantitative","scale":{"domain":[0.702,0.7219],"nice":false,"zero":false},
   "axis":{"orient":"bottom","values":[0.703,0.704,0.706,0.707,0.708,0.709,0.711,0.712,0.713,0.714,0.716,0.717,0.718,0.719,0.721],"labels":false,"domain":false,"title":null,"tickSize":-8}},"x2":{"field":"x2"},
  "y":{"field":"y","type":"quantitative","scale":{"domain":[0,1.1],"nice":false,"zero":false},
   "axis":{"orient":"right","values":[0.05,0.1,0.15,0.25,0.3,0.35,0.45,0.5,0.55,0.65,0.7,0.75,0.85,0.9,0.95,1.05,1.1],"labels":false,"domain":false,"title":null,"tickSize":-4}},"y2":{"field":"y2"}}},
{"data":{"name":"points"},
 "mark":{"type":"point","shape":"circle","filled":true,"size":210,"stroke":"#333","strokeWidth":1,"opacity":1},
 "encoding":{"x":{"field":"x","type":"quantitative","scale":{"domain":[0.702,0.7219],"nice":false,"zero":false},"axis":null},
  "y":{"field":"y","type":"quantitative","scale":{"domain":[0,1.1],"nice":false,"zero":false},"axis":null},
  "color":{"field":"name","type":"nominal","legend":null,"scale":{"domain":["Lucanian","RMP Neapolitan","Corsican"],"range":["#FF33FF","#FDD6A8","#3333FF"]}}}},
{"data":{"name":"stars"},
 "mark":{"type":"point","shape":"M0,-1L0.2245,-0.309L0.951,-0.309L0.363,0.118L0.588,0.809L0,0.382L-0.588,0.809L-0.363,0.118L-0.951,-0.309L-0.2245,-0.309Z","filled":true,"fill":"#FFFFFF","stroke":"#000","strokeWidth":5,"size":640,"opacity":1},
 "encoding":{"x":{"field":"x","type":"quantitative","scale":{"domain":[0.702,0.7219],"nice":false,"zero":false},"axis":null},
  "y":{"field":"y","type":"quantitative","scale":{"domain":[0,1.1],"nice":false,"zero":false},"axis":null}}},
{"data":{"name":"leaders"},"transform":[{"filter":"datum.panel=='B'"}],
 "mark":{"type":"rule","color":"#000","strokeWidth":1.2},
 "encoding":{"x":{"field":"x","type":"quantitative","scale":{"domain":[0.702,0.7219],"nice":false,"zero":false},"axis":null},"x2":{"field":"x2"},
  "y":{"field":"y","type":"quantitative","scale":{"domain":[0,1.1],"nice":false,"zero":false},"axis":null},"y2":{"field":"y2"}}},
{"data":{"name":"texts"},"transform":[{"filter":"datum.panel=='B' && datum.role=='label'"}],
 "mark":{"type":"text","align":"left","baseline":"middle","fontSize":19},
 "encoding":{"x":{"field":"x","type":"quantitative","scale":{"domain":[0.702,0.7219],"nice":false,"zero":false},"axis":null},
  "y":{"field":"y","type":"quantitative","scale":{"domain":[0,1.1],"nice":false,"zero":false},"axis":null},"text":{"field":"text"}}},
{"data":{"name":"texts"},"transform":[{"filter":"datum.panel=='B' && datum.role=='sub'"}],
 "mark":{"type":"text","align":"left","baseline":"middle","fontSize":15,"fontStyle":"italic"},
 "encoding":{"x":{"field":"x","type":"quantitative","scale":{"domain":[0.702,0.7219],"nice":false,"zero":false},"axis":null},
  "y":{"field":"y","type":"quantitative","scale":{"domain":[0,1.1],"nice":false,"zero":false},"axis":null},"text":{"field":"text"}}},
{"data":{"name":"texts"},"transform":[{"filter":"datum.panel=='B' && datum.role=='center'"}],
 "mark":{"type":"text","align":"center","baseline":"middle","fontSize":19},
 "encoding":{"x":{"field":"x","type":"quantitative","scale":{"domain":[0.702,0.7219],"nice":false,"zero":false},"axis":null},
  "y":{"field":"y","type":"quantitative","scale":{"domain":[0,1.1],"nice":false,"zero":false},"axis":null},"text":{"field":"text"}}},
{"data":{"name":"texts"},"transform":[{"filter":"datum.panel=='B' && datum.role=='subC'"}],
 "mark":{"type":"text","align":"center","baseline":"middle","fontSize":15,"fontStyle":"italic"},
 "encoding":{"x":{"field":"x","type":"quantitative","scale":{"domain":[0.702,0.7219],"nice":false,"zero":false},"axis":null},
  "y":{"field":"y","type":"quantitative","scale":{"domain":[0,1.1],"nice":false,"zero":false},"axis":null},"text":{"field":"text"}}},
{"data":{"name":"texts"},"transform":[{"filter":"datum.panel=='B' && datum.role=='letter'"}],
 "mark":{"type":"text","align":"center","baseline":"alphabetic","fontSize":68},
 "encoding":{"x":{"field":"x","type":"quantitative","scale":{"domain":[0.702,0.7219],"nice":false,"zero":false},"axis":null},
  "y":{"field":"y","type":"quantitative","scale":{"domain":[0,1.1],"nice":false,"zero":false},"axis":null},"text":{"field":"text"}}}
]
},
{
"width":598,"height":380,
"resolve":{"axis":{"x":"independent","y":"independent"}},
"layer":[
{"data":{"name":"boxes"},"transform":[{"filter":"datum.panel=='C' && datum.name=='mantle'"}],
 "mark":{"type":"rect","fill":"#959595","clip":true},
 "encoding":{
  "x":{"field":"x","type":"quantitative","scale":{"domain":[0.702,0.7219],"nice":false,"zero":false},
   "axis":{"orient":"top","values":[0.705,0.71,0.715,0.72],"labels":false,"title":null,"tickSize":-12}},
  "x2":{"field":"x2"},
  "y":{"field":"y","type":"quantitative","scale":{"domain":[0,7],"nice":false,"zero":false},
   "axis":{"orient":"left","values":[0,3,6],"format":"d","tickSize":-15,"labelPadding":36,"title":"³He/⁴He\u00a0\u00a0\u00a0\u00a0\u00a0(R/Ra)","titleFontSize":30,"titleX":-106,"titleY":193,"titleBaseline":"middle"}},
  "y2":{"field":"y2"}}},
{"data":{"name":"boxes"},"transform":[{"filter":"datum.panel=='C' && datum.name=='continental crust'"}],
 "mark":{"type":"rect","fill":"#E6E6E6","stroke":"#777","strokeWidth":1,"clip":true},
 "encoding":{
  "x":{"field":"x","type":"quantitative","scale":{"domain":[0.702,0.7219],"nice":false,"zero":false},
   "axis":{"orient":"bottom","values":[0.705,0.71,0.715,0.72],"format":".5f","tickSize":-17,"labelPadding":28,"title":"⁸⁷Sr/⁸⁶Srᵢ","titleFontSize":30,"titlePadding":8}},
  "x2":{"field":"x2"},
  "y":{"field":"y","type":"quantitative","scale":{"domain":[0,7],"nice":false,"zero":false},
   "axis":{"orient":"right","values":[0,3,6],"labels":false,"domain":false,"title":null,"tickSize":-15}},
  "y2":{"field":"y2"}}},
{"data":{"name":"shapes"},"transform":[{"filter":"datum.panel=='C'"}],
 "mark":{"type":"line","interpolate":"cardinal-closed","stroke":"#333","strokeWidth":0.9,"clip":true},
 "encoding":{
  "x":{"field":"x","type":"quantitative","scale":{"domain":[0.702,0.7219],"nice":false,"zero":false},
   "axis":{"orient":"top","values":[0.703,0.704,0.706,0.707,0.708,0.709,0.711,0.712,0.713,0.714,0.716,0.717,0.718,0.719,0.721],"labels":false,"domain":false,"title":null,"tickSize":-6}},
  "y":{"field":"y","type":"quantitative","scale":{"domain":[0,7],"nice":false,"zero":false},
   "axis":{"orient":"left","values":[1,2,4,5,7],"labels":false,"domain":false,"title":null,"tickSize":-8}},
  "order":{"field":"i","type":"quantitative"},
  "detail":{"field":"id","type":"nominal"},
  "fill":{"field":"group","type":"nominal","legend":null,"scale":{"domain":["MORB","Roman Neapolitan","Roman Latian","Western Alps","Tuscan","Corsican","Spanish lamproite","Serbian UK","Tibet lamproite"],"range":["#959595","#FDD6A8","#F78C1F","#AAAAAA","#3CF03C","#3333FF","#E8E8E8","#C9C9C9","#E8E8E8"]}}
 }},
{"data":{"name":"leaders"},"transform":[{"filter":"datum.panel=='C'"}],
 "mark":{"type":"rule","color":"#000","strokeWidth":1.2},
 "encoding":{"x":{"field":"x","type":"quantitative","scale":{"domain":[0.702,0.7219],"nice":false,"zero":false},
   "axis":{"orient":"bottom","values":[0.703,0.704,0.706,0.707,0.708,0.709,0.711,0.712,0.713,0.714,0.716,0.717,0.718,0.719,0.721],"labels":false,"domain":false,"title":null,"tickSize":-8}},"x2":{"field":"x2"},
  "y":{"field":"y","type":"quantitative","scale":{"domain":[0,7],"nice":false,"zero":false},
   "axis":{"orient":"right","values":[1,2,4,5,7],"labels":false,"domain":false,"title":null,"tickSize":-8}},"y2":{"field":"y2"}}},
{"data":{"name":"texts"},"transform":[{"filter":"datum.panel=='C' && datum.role=='label'"}],
 "mark":{"type":"text","align":"left","baseline":"middle","fontSize":19},
 "encoding":{"x":{"field":"x","type":"quantitative","scale":{"domain":[0.702,0.7219],"nice":false,"zero":false},"axis":null},
  "y":{"field":"y","type":"quantitative","scale":{"domain":[0,7],"nice":false,"zero":false},"axis":null},"text":{"field":"text"}}},
{"data":{"name":"texts"},"transform":[{"filter":"datum.panel=='C' && datum.role=='sub'"}],
 "mark":{"type":"text","align":"left","baseline":"middle","fontSize":15,"fontStyle":"italic"},
 "encoding":{"x":{"field":"x","type":"quantitative","scale":{"domain":[0.702,0.7219],"nice":false,"zero":false},"axis":null},
  "y":{"field":"y","type":"quantitative","scale":{"domain":[0,7],"nice":false,"zero":false},"axis":null},"text":{"field":"text"}}},
{"data":{"name":"texts"},"transform":[{"filter":"datum.panel=='C' && datum.role=='center'"}],
 "mark":{"type":"text","align":"center","baseline":"middle","fontSize":19},
 "encoding":{"x":{"field":"x","type":"quantitative","scale":{"domain":[0.702,0.7219],"nice":false,"zero":false},"axis":null},
  "y":{"field":"y","type":"quantitative","scale":{"domain":[0,7],"nice":false,"zero":false},"axis":null},"text":{"field":"text"}}},
{"data":{"name":"texts"},"transform":[{"filter":"datum.panel=='C' && datum.role=='letter'"}],
 "mark":{"type":"text","align":"center","baseline":"alphabetic","fontSize":72},
 "encoding":{"x":{"field":"x","type":"quantitative","scale":{"domain":[0.702,0.7219],"nice":false,"zero":false},"axis":null},
  "y":{"field":"y","type":"quantitative","scale":{"domain":[0,7],"nice":false,"zero":false},"axis":null},"text":{"field":"text"}}}
]
}
]
}
